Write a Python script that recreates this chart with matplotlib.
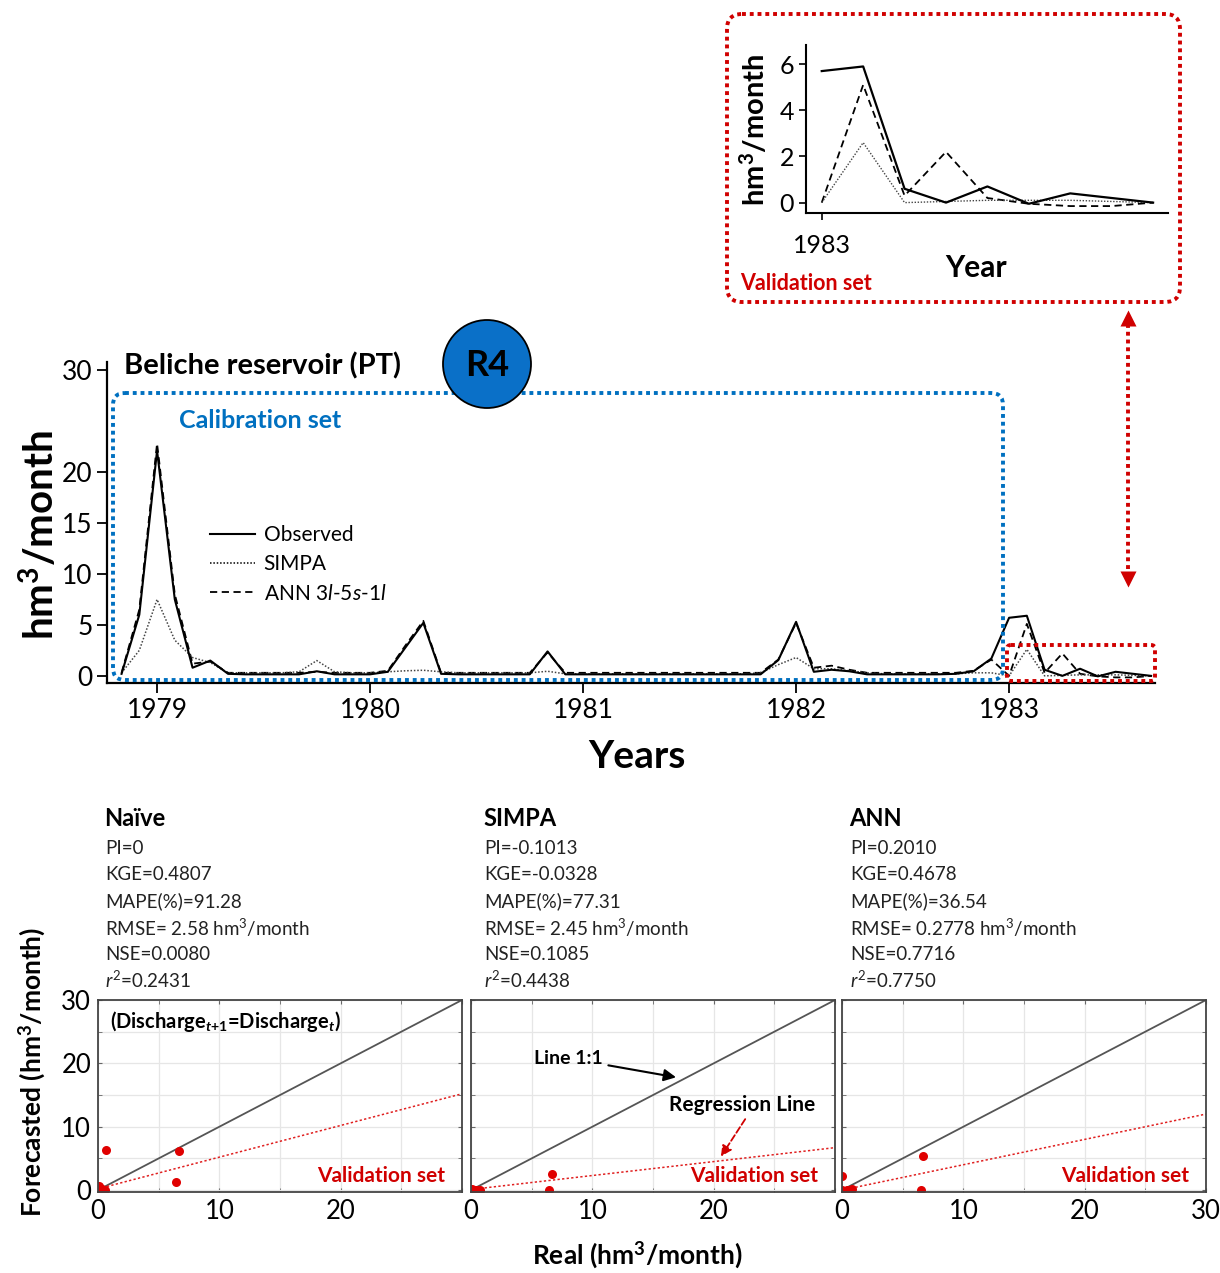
import numpy as np
import matplotlib
matplotlib.use('Agg')
import matplotlib.pyplot as plt
from matplotlib.patches import FancyBboxPatch, Circle
from matplotlib.lines import Line2D
from matplotlib.ticker import MultipleLocator

plt.rcParams['font.family'] = ['Lato', 'DejaVu Sans']
plt.rcParams['mathtext.fontset'] = 'custom'
plt.rcParams['mathtext.rm'] = 'Lato'
plt.rcParams['mathtext.it'] = 'Lato:italic'
plt.rcParams['mathtext.bf'] = 'Lato:bold'
if 'mathtext.bfit' in plt.rcParams:
    plt.rcParams['mathtext.bfit'] = 'Lato:italic:bold'

#----------------------------------------------------------------------
# monthly discharge (hm3/month), Nov 1978 .. Sep 1983
#----------------------------------------------------------------------
first_year, first_month = 1978, 11
observed = [0.2, 6.0,
            22.1, 7.5, 0.8, 1.5, 0.2, 0.15, 0.15, 0.15, 0.15, 0.45, 0.15, 0.15,
            0.15, 0.4, 2.8, 5.2, 0.2, 0.15, 0.15, 0.15, 0.15, 0.15, 2.4, 0.15,
            0.15, 0.15, 0.15, 0.15, 0.15, 0.15, 0.15, 0.15, 0.15, 0.15, 0.15, 1.55,
            5.3, 0.4, 0.6, 0.45, 0.15, 0.15, 0.15, 0.15, 0.15, 0.2, 0.45, 1.7,
            5.7, 5.9, 0.6, 0.0, 0.7, -0.05, 0.4, 0.2, 0.0]
simpa = [0.3, 2.5,
         7.5, 3.5, 1.8, 1.3, 0.3, 0.3, 0.3, 0.3, 0.4, 1.5, 0.4, 0.3,
         0.3, 0.4, 0.5, 0.55, 0.4, 0.3, 0.3, 0.3, 0.3, 0.3, 0.45, 0.2,
         0.2, 0.2, 0.2, 0.2, 0.2, 0.2, 0.2, 0.2, 0.2, 0.2, 0.3, 1.1,
         1.8, 0.7, 0.7, 0.5, 0.3, 0.2, 0.2, 0.2, 0.2, 0.2, 0.3, 0.3,
         0.0, 2.6, 0.0, 0.05, 0.1, 0.1, 0.1, 0.05, 0.0]
ann = [0.3, 6.5,
       22.8, 8.0, 1.2, 1.4, 0.3, 0.3, 0.3, 0.3, 0.3, 0.4, 0.3, 0.3,
       0.3, 0.5, 3.0, 5.4, 0.3, 0.3, 0.3, 0.3, 0.3, 0.3, 2.3, 0.3,
       0.3, 0.3, 0.3, 0.3, 0.3, 0.3, 0.3, 0.3, 0.3, 0.3, 0.3, 1.6,
       5.2, 0.8, 1.0, 0.6, 0.3, 0.3, 0.3, 0.3, 0.3, 0.3, 0.5, 1.6,
       0.0, 5.1, 0.3, 2.2, 0.2, -0.05, -0.15, -0.15, 0.0]
n_valid = 9   # Jan..Sep 1983
year_ticks = [1979, 1980, 1981, 1982, 1983]
main_yticks = [0, 5, 10, 15, 20, 30]

#----------------------------------------------------------------------
# validation scatter (real vs forecasted)
#----------------------------------------------------------------------
models = ['Naïve', 'SIMPA', 'ANN']
real_vals = [[0.7, 6.7, 6.4, 0.2, 0.6, 0.1, 0.35, 0.0],
             [6.7, 6.45, 0.3, 0.75, 0.1, 0.5],
             [6.7, 6.5, 0.0, 0.8, 0.4, 0.0]]
fc_vals = [[6.3, 6.1, 1.3, 0.3, 0.0, 0.6, 0.1, 0.0],
           [2.6, 0.0, 0.0, 0.0, 0.1, 0.05],
           [5.4, 0.0, 2.2, 0.1, 0.0, 0.05]]
reg_slope = [0.5, 0.22, 0.4]
reg_icept = [0.2, 0.1, 0.0]
pi_vals = ['0', '-0.1013', '0.2010']
kge_vals = ['0.4807', '-0.0328', '0.4678']
mape_vals = ['91.28', '77.31', '36.54']
rmse_vals = ['2.58', '2.45', '0.2778']
nse_vals = ['0.0080', '0.1085', '0.7716']
r2_vals = ['0.2431', '0.4438', '0.7750']

RED = '#d00000'
BLUE = '#0070c0'
W, H = 1220, 1273

fig = plt.figure(figsize=(W / 100, H / 100), dpi=100)

def box(l, t, r, b):
    return [l / W, 1 - b / H, (r - l) / W, (b - t) / H]

#----------------------------------------------------------------------
# main time series
#----------------------------------------------------------------------
x = first_year + (first_month - 1 + np.arange(len(observed))) / 12
ax = fig.add_axes(box(107, 362, 1155, 683))
ax.plot(x, ann, color='black', ls=(0, (4, 2.5)), lw=1.3)
ax.plot(x, simpa, color='#444444', ls=(0, (1, 1.2)), lw=1.1)
ax.plot(x, observed, color='black', lw=1.5)
ax.set_xlim(1978.765, 1983.685)
ax.set_ylim(-0.7, 30.8)
ax.set_xticks(year_ticks)
ax.set_yticks(main_yticks)
for s in ['top', 'right']:
    ax.spines[s].set_visible(False)
for s in ['left', 'bottom']:
    ax.spines[s].set_linewidth(1.6)
ax.tick_params(labelsize=19, length=7, width=1.3)
handles = [Line2D([], [], color='black', lw=1.5),
           Line2D([], [], color='black', ls=(0, (1, 1.2)), lw=1.1),
           Line2D([], [], color='black', ls=(0, (4, 2.5)), lw=1.3)]
ax.legend(handles, ['Observed', 'SIMPA', r'ANN 3$\mathit{l}$-5$\mathit{s}$-1$\mathit{l}$'],
          loc='center left', bbox_to_anchor=(0.08, 0.37), frameon=False,
          fontsize=15, handlelength=2.2, labelspacing=0.45, handletextpad=0.4)

#----------------------------------------------------------------------
# inset: validation period
#----------------------------------------------------------------------
xv = x[-n_valid:]
ins = fig.add_axes(box(806, 45, 1168, 213))
ins.plot(xv, ann[-n_valid:], color='black', ls=(0, (4, 2.5)), lw=1.3)
ins.plot(xv, simpa[-n_valid:], color='#444444', ls=(0, (1, 1.2)), lw=1.0)
ins.plot(xv, observed[-n_valid:], color='black', lw=1.6)
ins.set_xlim(xv[0] - 0.38 / 12, xv[0] + 8.36 / 12)
ins.set_ylim(-0.45, 6.83)
ins.set_xticks([1983])
ins.set_yticks([0, 2, 4, 6])
for s in ['top', 'right']:
    ins.spines[s].set_visible(False)
for s in ['left', 'bottom']:
    ins.spines[s].set_linewidth(1.5)
ins.tick_params(labelsize=18, length=5, width=1.2)
ins.tick_params(axis='x', pad=10)

#----------------------------------------------------------------------
# scatter panels
#----------------------------------------------------------------------
panel_x = [(98, 462), (471, 835), (842, 1206)]
lim = np.array([0, 30])
panels = []
for i, (l, r) in enumerate(panel_x):
    a = fig.add_axes(box(l, 1000, r, 1192))
    a.set_xlim(0, 30)
    a.set_ylim(-0.3, 30)
    a.xaxis.set_major_locator(MultipleLocator(10))
    a.yaxis.set_major_locator(MultipleLocator(10))
    a.xaxis.set_minor_locator(MultipleLocator(5))
    a.yaxis.set_minor_locator(MultipleLocator(5))
    a.grid(which='both', color='#e6e6e6', lw=0.9)
    a.set_axisbelow(True)
    a.tick_params(which='both', direction='in', top=True, right=True,
                  length=3, color='#666666', labelsize=18.5, pad=5)
    if i < 2:
        a.set_xticks([0, 10, 20, 30])
        a.set_xticklabels(['0', '10', '20', ''])
    if i > 0:
        a.set_yticklabels([])
    for s in a.spines.values():
        s.set_color('#444444')
        s.set_linewidth(1.3)
    a.plot(lim, lim, color='#555555', lw=1.3)
    a.plot(lim, reg_slope[i] * lim + reg_icept[i], color='#e02020',
           ls=(0, (1.5, 1.5)), lw=1.1)
    a.plot(real_vals[i], fc_vals[i], 'o', color='#e00000', ms=6.5, mec='none')
    a.text(28.6, 2.3, 'Validation set', color=RED, fontsize=15,
           fontweight='bold', ha='right', va='center')
    panels.append(a)

p2 = panels[1]
p2.annotate('Line 1:1', xy=(16.9, 17.8), xytext=(5.2, 20.8), fontsize=14,
            fontweight='bold', va='center',
            arrowprops=dict(arrowstyle='-|>', color='black', lw=1.5,
                            mutation_scale=18, shrinkA=2, shrinkB=0))
p2.text(16.3, 13.4, 'Regression Line', fontsize=15, fontweight='bold', va='center')
p2.annotate('', xy=(20.6, 5.3), xytext=(22.6, 11.2),
            arrowprops=dict(arrowstyle='-|>', color=RED, lw=1.3, ls='--',
                            mutation_scale=16, shrinkA=0, shrinkB=0))

#----------------------------------------------------------------------
# overlay in pixel coordinates: boxes, arrows and free text
#----------------------------------------------------------------------
ov = fig.add_axes([0, 0, 1, 1])
ov.set_xlim(0, W)
ov.set_ylim(H, 0)
ov.axis('off')

def dotted_box(l, t, r, b, color, rad):
    ov.add_patch(FancyBboxPatch((l, t), r - l, b - t,
                                boxstyle='round,pad=0,rounding_size=%d' % rad,
                                fill=False, ec=color, lw=2.8, ls=(0, (1, 1))))

dotted_box(113, 393, 1003, 680, BLUE, 12)
dotted_box(1007, 645, 1155, 681, RED, 4)
dotted_box(727, 14, 1180, 302, RED, 15)

ov.plot([1128, 1128], [324, 574], color=RED, lw=2.8, ls=(0, (1, 1)))
ov.plot(1128, 318, marker='^', ms=12, color=RED, mec='none')
ov.plot(1128, 579, marker='v', ms=12, color=RED, mec='none')

ov.add_patch(Circle((487, 364), 44, fc='#0a70c8', ec='black', lw=1.3, zorder=5))
ov.text(487, 366, 'R4', fontsize=26, fontweight='bold', ha='center', va='center', zorder=6)
ov.text(124, 366, 'Beliche reservoir (PT)', fontsize=21, fontweight='bold', va='center')
ov.text(179, 421, 'Calibration set', fontsize=18, fontweight='bold', color=BLUE, va='center')
ov.text(637, 757, 'Years', fontsize=28, fontweight='bold', ha='center', va='center')
ov.text(40, 535, r'hm$^\mathbf{3}$/month', fontsize=29, fontweight='bold',
        ha='center', va='center', rotation=90)

ov.text(754, 130, r'hm$^\mathbf{3}$/month', fontsize=21, fontweight='bold',
        ha='center', va='center', rotation=90)
ov.text(976, 268, 'Year', fontsize=21.5, fontweight='bold', ha='center', va='center')
ov.text(740, 283, 'Validation set', fontsize=15.5, fontweight='bold', color=RED, va='center')

ov.text(110, 1022, r'(Discharge$_{\mathbfit{t}\mathbf{+1}}$=Discharge$_{\mathbfit{t}}$)',
        fontsize=14.5, fontweight='bold', va='center')

text_x = [104, 483, 849]
for i in range(3):
    tx = text_x[i]
    ov.text(tx, 818, models[i], fontsize=17, fontweight='bold', va='center')
    lines = ['PI=' + pi_vals[i],
             'KGE=' + kge_vals[i],
             'MAPE(%)=' + mape_vals[i],
             'RMSE= ' + rmse_vals[i] + r' hm$^3$/month',
             'NSE=' + nse_vals[i],
             r'$\mathit{r}^2$=' + r2_vals[i]]
    for k, s in enumerate(lines):
        ov.text(tx + 1, 848 + 26.5 * k, s, fontsize=13.5, va='center', color='#222222')

ov.text(32, 1072, r'Forecasted (hm$^\mathbf{3}$/month)', fontsize=19, fontweight='bold',
        ha='center', va='center', rotation=90)
ov.text(637, 1255, r'Real (hm$^\mathbf{3}$/month)', fontsize=19, fontweight='bold',
        ha='center', va='center')

fig.savefig('out.png', dpi=100)
